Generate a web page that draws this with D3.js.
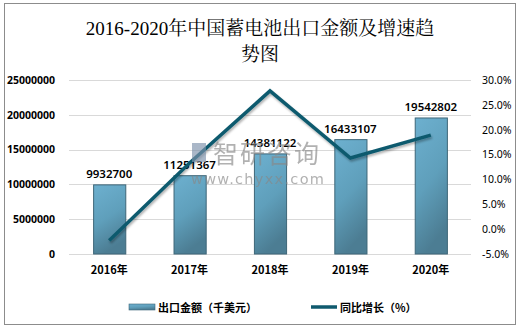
<!DOCTYPE html>
<html><head><meta charset="utf-8">
<script src="https://cdn.jsdelivr.net/npm/d3@7"></script>
<style>
body{margin:0;background:#fff;}
svg{display:block;font-family:"Noto Sans CJK SC","Noto Sans",sans-serif;}
</style></head>
<body><svg id="c" width="520" height="329"></svg>
<script>
// Battery export value (thousand USD) and year-on-year growth (%)
const years = ["2016年","2017年","2018年","2019年","2020年"];
const exportValues = [9932700, 11251367, 14381122, 16433107, 19542802];
const growthRates = [-2.3, 13.3, 27.8, 14.3, 18.9];
const leftTicks = [0, 5000000, 10000000, 15000000, 20000000, 25000000];
const rightTicks = [-5, 0, 5, 10, 15, 20, 25, 30];

const numFont = "'Noto Sans','DejaVu Sans',sans-serif";
const svg = d3.select("#c");
const plot = {left: 69, right: 471, top: 80, bottom: 254};

// outer frame
svg.append("rect").attr("x",4.5).attr("y",3.5).attr("width",511).attr("height",321)
  .attr("fill","#fff").attr("stroke","#8c8c8c").attr("stroke-width",1);

// title
const title = svg.append("text").attr("text-anchor","middle")
  .style("font-family","'Liberation Serif','Noto Serif CJK SC','Noto Sans CJK SC',serif")
  .attr("font-size",19).attr("fill","#000");
title.append("tspan").attr("x",260).attr("y",35).text("2016-2020年中国蓄电池出口金额及增速趋");
title.append("tspan").attr("x",260).attr("y",61).text("势图");

const x = d3.scaleBand().domain(years).range([plot.left, plot.right]).paddingInner(0.6).paddingOuter(0.3);
const yL = d3.scaleLinear().domain([0, 25000000]).range([plot.bottom, plot.top]);
const yR = d3.scaleLinear().domain([-5, 30]).range([plot.bottom, plot.top]);

const defs = svg.append("defs");
const grad = defs.append("linearGradient").attr("id","barGrad")
  .attr("x1","0").attr("y1","0").attr("x2","0.3").attr("y2","1");
grad.append("stop").attr("offset","0").attr("stop-color","#6db0cf");
grad.append("stop").attr("offset","0.55").attr("stop-color","#5f9fbb");
grad.append("stop").attr("offset","1").attr("stop-color","#4c7d93");
const shadow = defs.append("filter").attr("id","lineShadow").attr("x","-10%").attr("y","-10%").attr("width","120%").attr("height","130%");
shadow.append("feDropShadow").attr("dx",1).attr("dy",2).attr("stdDeviation",1.2).attr("flood-color","#000").attr("flood-opacity",0.3);

// gridlines
svg.append("g").selectAll("line").data(leftTicks).join("line")
  .attr("x1",plot.left).attr("x2",plot.right)
  .attr("y1",d=>Math.round(yL(d))+0.5).attr("y2",d=>Math.round(yL(d))+0.5)
  .attr("stroke","#d9d9d9").attr("stroke-width",1);

// left axis
const axL = svg.append("g").attr("transform",`translate(${plot.left},0)`)
  .call(d3.axisLeft(yL).tickValues(leftTicks).tickSize(0).tickPadding(14).tickFormat(d3.format("d")));
axL.select(".domain").remove();
axL.selectAll("text").style("font-family",numFont)
  .attr("font-size",10.5).attr("font-weight","bold").attr("fill","#000");

// right axis
const axR = svg.append("g").attr("transform",`translate(${plot.right},0)`)
  .call(d3.axisRight(yR).tickValues(rightTicks).tickSize(0).tickPadding(11).tickFormat(d=>d.toFixed(1)+"%"));
axR.select(".domain").remove();
axR.selectAll("text").style("font-family",numFont)
  .attr("font-size",10.5).attr("fill","#000");

// bottom axis labels
const axB = svg.append("g").attr("transform",`translate(0,${plot.bottom})`)
  .call(d3.axisBottom(x).tickSize(0).tickPadding(12));
axB.select(".domain").remove();
axB.selectAll("text").style("font-family","'Noto Sans CJK SC',sans-serif")
  .attr("font-size",11).attr("font-weight","bold").attr("fill","#000");

// bars
svg.append("g").selectAll("rect").data(exportValues).join("rect")
  .attr("x",(d,i)=>x(years[i])+0.5).attr("width",x.bandwidth())
  .attr("y",d=>yL(d)).attr("height",d=>yL(0)-yL(d))
  .attr("fill","url(#barGrad)").attr("stroke","#3e6678").attr("stroke-width",1);

// value labels
svg.append("g").selectAll("text").data(exportValues).join("text")
  .attr("x",(d,i)=>x(years[i])+x.bandwidth()/2).attr("y",d=>yL(d)-7)
  .attr("text-anchor","middle").style("font-family",numFont)
  .attr("font-size",11.5).attr("font-weight","600").attr("fill","#000").text(d=>d);

// growth line
const line = d3.line().x((d,i)=>x(years[i])+x.bandwidth()/2).y(d=>yR(d));
svg.append("path").datum(growthRates).attr("d",line)
  .attr("fill","none").attr("stroke","#0f5a6e").attr("stroke-width",3.5)
  .attr("stroke-linejoin","miter").attr("filter","url(#lineShadow)");

// watermark
const wm = svg.append("g").attr("opacity",0.65);
wm.append("rect").attr("x",192).attr("y",143).attr("width",14).attr("height",19).attr("fill","#7d92ab");
wm.append("text").attr("x",213).attr("y",163).attr("font-size",25).attr("letter-spacing",2)
  .attr("fill","#888").text("智研咨询");
wm.append("text").attr("x",191).attr("y",184).style("font-family","'DejaVu Sans',sans-serif")
  .attr("font-size",14.5).attr("letter-spacing",1.3).attr("fill","#888").text("www.chyxx.com");

// legend
const lg = svg.append("g");
lg.append("rect").attr("x",129).attr("y",304).attr("width",26).attr("height",6)
  .attr("fill","url(#barGrad)").attr("stroke","#3e6678").attr("stroke-width",0.6);
lg.append("text").attr("x",158).attr("y",311.5).attr("font-size",11).attr("font-weight","bold").attr("fill","#000")
  .text("出口金额（千美元）");
lg.append("line").attr("x1",311).attr("x2",337).attr("y1",307).attr("y2",307)
  .attr("stroke","#0f5a6e").attr("stroke-width",3.5);
lg.append("text").attr("x",340).attr("y",311.5).attr("font-size",11).attr("font-weight","bold").attr("fill","#000")
  .text("同比增长（%）");
</script></body></html>
